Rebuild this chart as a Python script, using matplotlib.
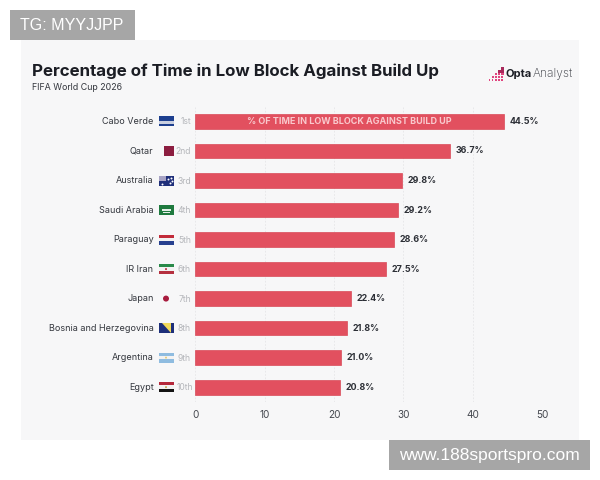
import matplotlib
matplotlib.use('Agg')
import matplotlib.pyplot as plt
from matplotlib.patches import Rectangle, Polygon, Circle

# Данные
teams = ['Cabo Verde', 'Qatar', 'Australia', 'Saudi Arabia', 'Paraguay',
         'IR Iran', 'Japan', 'Bosnia and Herzegovina', 'Argentina', 'Egypt']
ranks = ['1st', '2nd', '3rd', '4th', '5th', '6th', '7th', '8th', '9th', '10th']
values = [44.5, 36.7, 29.8, 29.2, 28.6, 27.5, 22.4, 21.8, 21.0, 20.8]
x_ticks = [0, 10, 20, 30, 40, 50]

# Горизонтальные полосы флагов, сверху вниз
flag_stripes = {
    'Cabo Verde': ['#1d3f8f', '#1d3f8f', '#c9cfe0', '#1d3f8f'],
    'Saudi Arabia': ['#1f7a3f'],
    'Paraguay': ['#c22b3a', '#f2f2f2', '#27408f'],
    'IR Iran': ['#2a8a4a', '#f2f2f2', '#b5303f'],
    'Argentina': ['#8fbce0', '#f2f2f2', '#8fbce0'],
    'Egypt': ['#b5283a', '#f2f2f2', '#141414'],
}

BG = '#f7f7f8'
BAR = '#e2505f'
DARK = '#1b1d24'
FONT = 'Inter'

W, H = 600, 480
fig = plt.figure(figsize=(W / 100, H / 100), dpi=100, facecolor='white')

# Слой в пикселях: подложка, заголовки, логотип
over = fig.add_axes([0, 0, 1, 1])
over.set_xlim(0, W)
over.set_ylim(H, 0)
over.axis('off')
over.add_patch(Rectangle((21, 40), 558, 400, color=BG, lw=0))

over.text(32, 71, 'Percentage of Time in Low Block Against Build Up', fontsize=12.16,
          fontweight='bold', color=DARK, family=FONT, va='center', ha='left')
over.text(32, 88, 'FIFA World Cup 2026', fontsize=6.4, color='#33363d', family=FONT,
          va='center', ha='left')

# Логотип: ступеньки из точек и надпись
for col, n in enumerate([1, 2, 3, 4, 5]):
    for row in range(n):
        size = 1.6 + 0.3 * row
        over.add_patch(Rectangle((488.5 + col * 3.2, 79 - row * 3), size, size,
                                 color='#e0457f' if row < 3 else '#a82a5c', lw=0))
over.text(506, 74, 'Opta', fontsize=8.0, fontweight='bold', color=DARK, family=FONT,
          va='center', ha='left')
over.text(533, 74, 'Analyst', fontsize=8.6, fontweight='light', color='#33363d',
          family=FONT, va='center', ha='left')

# Основной график
ax = fig.add_axes([195.5 / W, 1 - 401.9 / H, 346.5 / W, 295.2 / H])
ax.patch.set_alpha(0)
y = list(range(len(teams)))
ax.barh(y, values, height=0.5, color=BAR, edgecolor='#d84a59', linewidth=0.5, zorder=3)
ax.set_xlim(0, 50)
ax.set_ylim(len(teams) - 0.5, -0.5)
ax.set_xticks(x_ticks)
ax.set_yticks([])
ax.tick_params(axis='x', length=0, pad=6, labelsize=7.2, labelcolor='#44474e')
for label in ax.get_xticklabels():
    label.set_family(FONT)
ax.grid(axis='x', color='#e6e6e8', linewidth=0.6, linestyle=(0, (2, 2)), zorder=0)
for side in ax.spines.values():
    side.set_visible(False)

ax.text(22.2, 0, '% OF TIME IN LOW BLOCK AGAINST BUILD UP', fontsize=6.5, fontweight='bold',
        color='#f9c9cd', family=FONT, ha='center', va='center', zorder=4)

for i, val in enumerate(values):
    ax.text(val + 0.85, i, f'{val:.1f}%', fontsize=6.4, fontweight='bold', color='#2c2f36',
            family=FONT, ha='left', va='center', zorder=4)


def row_y(i):
    # центр строки в пикселях слоя
    return over.transData.inverted().transform(ax.transData.transform((0, i)))[1]


def draw_flag(team, cy):
    x0, w, h = 158.5, 15, 10
    top = cy - h / 2
    if team in flag_stripes:
        stripes = flag_stripes[team]
        for k, c in enumerate(stripes):
            over.add_patch(Rectangle((x0, top + k * h / len(stripes)), w, h / len(stripes),
                                     color=c, lw=0))
    if team == 'Qatar':
        over.add_patch(Rectangle((x0 + 5, top), 10, h, color='#8c1d40', lw=0))
    elif team == 'Australia':
        over.add_patch(Rectangle((x0, top), w, h, color='#1f2f7a', lw=0))
        over.add_patch(Rectangle((x0, top), 7, 5, color='#a7a3c4', lw=0))
        over.scatter([x0 + 9, x0 + 12, x0 + 11, x0 + 13, x0 + 3], [top + 3, top + 2, top + 7, top + 5, top + 8],
                     s=2, color='white', lw=0)
    elif team == 'Saudi Arabia':
        over.add_patch(Rectangle((x0 + 3, top + 3.5), 9, 2, color='#e5efe8', lw=0))
        over.add_patch(Rectangle((x0 + 4, top + 7), 7, 0.8, color='#e5efe8', lw=0))
    elif team == 'Japan':
        over.add_patch(Circle((x0 + w / 2, cy), 3, color='#a81c3e', lw=0))
    elif team == 'Bosnia and Herzegovina':
        over.add_patch(Rectangle((x0, top), w, h, color='#1d2f7a', lw=0))
        over.add_patch(Polygon([(x0 + 3, top), (x0 + 12.5, top), (x0 + 12.5, top + h)],
                               color='#f1d95a', lw=0))
    elif team == 'Argentina':
        over.add_patch(Circle((x0 + w / 2, cy), 1, color='#e6cf7a', lw=0))
    elif team == 'Egypt':
        over.add_patch(Circle((x0 + w / 2, cy), 1, color='#c9a94f', lw=0))
    elif team == 'IR Iran':
        over.add_patch(Circle((x0 + w / 2, cy), 1, color='#b5303f', lw=0))


# Подписи строк: название, флаг, место
for i, team in enumerate(teams):
    cy = row_y(i)
    over.text(153.5, cy, team, fontsize=6.5, color='#33363d', family=FONT,
              ha='right', va='center')
    draw_flag(team, cy)
    over.text(191 if i < 9 else 193, cy + 0.5, ranks[i], fontsize=6.2, color='#b5b7bb', family=FONT,
              ha='right', va='center')

# Плашки поверх картинки
over.add_patch(Rectangle((10, 10), 125, 30, color='#a6a6a6', lw=0))
over.text(20, 25.5, 'TG: MYYJJPP', fontsize=11.5, color='white', family='Liberation Sans',
          ha='left', va='center')
over.add_patch(Rectangle((389, 440), 201, 30, color='#a6a6a6', lw=0))
over.text(399, 455.5, 'www.188sportspro.com', fontsize=12.5, color='white',
          family='Liberation Sans', ha='left', va='center')

fig.savefig('out.png', dpi=100)
